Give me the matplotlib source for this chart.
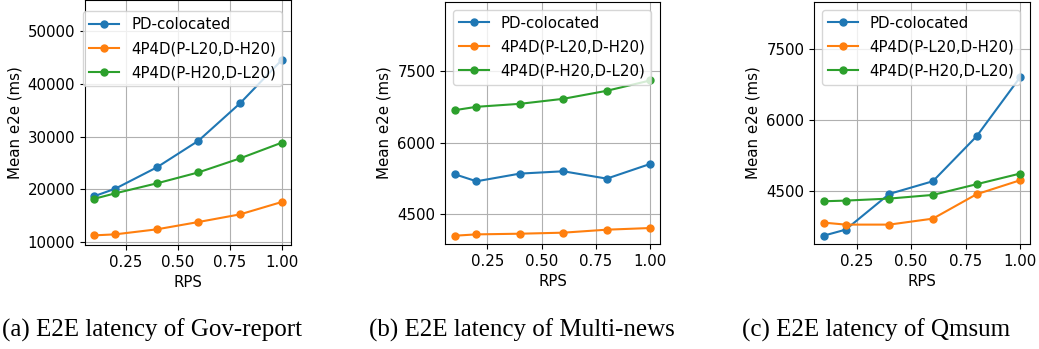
import matplotlib
matplotlib.use("Agg")
import matplotlib.pyplot as plt

# Request rate (RPS) on the x axis, same for all three datasets
rps = [0.1, 0.2, 0.4, 0.6, 0.8, 1.0]

series_names = ["PD-colocated", "4P4D(P-L20,D-H20)", "4P4D(P-H20,D-L20)"]

# Mean e2e latency (ms)
gov_colocated = [18700, 20100, 24150, 29200, 36300, 44500]
gov_pl_dh = [11260, 11450, 12400, 13790, 15240, 17580]
gov_ph_dl = [18200, 19230, 21120, 23200, 25860, 28830]

news_colocated = [5331, 5183, 5345, 5394, 5239, 5549]
news_pl_dh = [4035, 4063, 4077, 4099, 4162, 4197]
news_ph_dl = [6683, 6754, 6817, 6923, 7092, 7310]

qm_colocated = [3543, 3670, 4429, 4699, 5652, 6911]
qm_pl_dh = [3819, 3777, 3777, 3904, 4422, 4720]
qm_ph_dl = [4273, 4287, 4330, 4408, 4635, 4862]

captions = ["(a) E2E latency of Gov-report",
            "(b) E2E latency of Multi-news",
            "(c) E2E latency of Qmsum"]

panels = [
    (gov_colocated, gov_pl_dh, gov_ph_dl),
    (news_colocated, news_pl_dh, news_ph_dl),
    (qm_colocated, qm_pl_dh, qm_ph_dl),
]
yticks = [[10000, 20000, 30000, 40000, 50000], [4500, 6000, 7500], [4500, 6000, 7500]]
ylims = [(9430, 55900), (3860, 8965), (3365, 8507)]

W, H = 1039, 349
fig = plt.figure(figsize=(W / 100, H / 100), dpi=100)

# axes boxes in pixels: left, right, top, bottom
boxes = [(85, 291, 0, 245), (445, 660, 2, 244), (814, 1030, 2, 244)]
caption_x = [152, 522, 876]
legend_anchor = [(-0.045, 0.985), (0.0, 1.0), (0.0, 1.0)]

colors = ["#1f77b4", "#ff7f0e", "#2ca02c"]
fs = 10.8

for i, (data, box) in enumerate(zip(panels, boxes)):
    l, r, t, b = box
    ax = fig.add_axes([l / W, (H - b) / H, (r - l) / W, (b - t) / H])
    for vals, name, c in zip(data, series_names, colors):
        ax.plot(rps, vals, "o-", color=c, label=name, markersize=5, linewidth=1.5)
    ax.set_yticks(yticks[i])
    ax.set_ylim(*ylims[i])
    ax.set_xticks([0.25, 0.5, 0.75, 1.0])
    ax.tick_params(labelsize=fs)
    ax.set_xlabel("RPS", fontsize=fs)
    ax.set_ylabel("Mean e2e (ms)", fontsize=fs)
    ax.grid(True)
    ax.legend(loc="upper left", bbox_to_anchor=legend_anchor[i], fontsize=fs,
              labelspacing=0.6)
    fig.text(caption_x[i] / W, 1 - 330 / H, captions[i], ha="center", va="center",
             fontsize=18, family="Liberation Serif")

fig.savefig("out.png", dpi=100)
